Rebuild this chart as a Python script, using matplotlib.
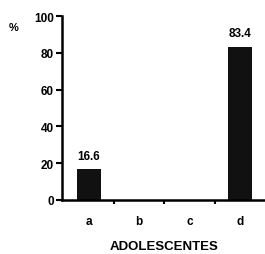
import matplotlib.pyplot as plt
import numpy as np

categorias = ['a', 'b', 'c', 'd']
porcentajes = [16.6, 0, 0, 83.4]
etiquetas = ['16.6', '', '', '83.4']

plt.rcParams['font.family'] = ['Liberation Sans', 'DejaVu Sans']
plt.rcParams['font.weight'] = 'bold'

fig = plt.figure(figsize=(2.65, 2.55), dpi=100)
ax = fig.add_axes([0.234, 0.212, 0.77, 0.721])

x = np.arange(len(categorias))
ax.bar(x, porcentajes, width=0.47, color='#111111')
for xi, v, lab in zip(x, porcentajes, etiquetas):
    if lab:
        ax.text(xi, v + 4, lab, ha='center', va='bottom', fontsize=8.5, fontweight='bold')

ax.set_xlim(-0.53, 3.52)
ax.set_ylim(0, 100)
ax.set_yticks([0, 20, 40, 60, 80, 100])
ax.set_xticks(x)
ax.set_xticklabels(categorias, fontsize=8.5, fontweight='bold')
ax.set_xticks([0.5, 1.5, 2.5], minor=True)
ax.tick_params(axis='x', which='major', length=0, pad=11)
ax.tick_params(axis='x', which='minor', length=3, width=1.5, direction='out')
ax.tick_params(axis='y', length=4, width=1.5, labelsize=8.5, pad=2)
for s in ['top', 'right']:
    ax.spines[s].set_visible(False)
ax.spines['left'].set_linewidth(1.8)
ax.spines['bottom'].set_linewidth(1.8)
ax.set_xlabel('ADOLESCENTES', fontsize=9.5, fontweight='bold', labelpad=9)
fig.text(0.05, 0.89, '%', fontsize=8, fontweight='bold', ha='center', va='center')

fig.savefig('out.png', dpi=100)
